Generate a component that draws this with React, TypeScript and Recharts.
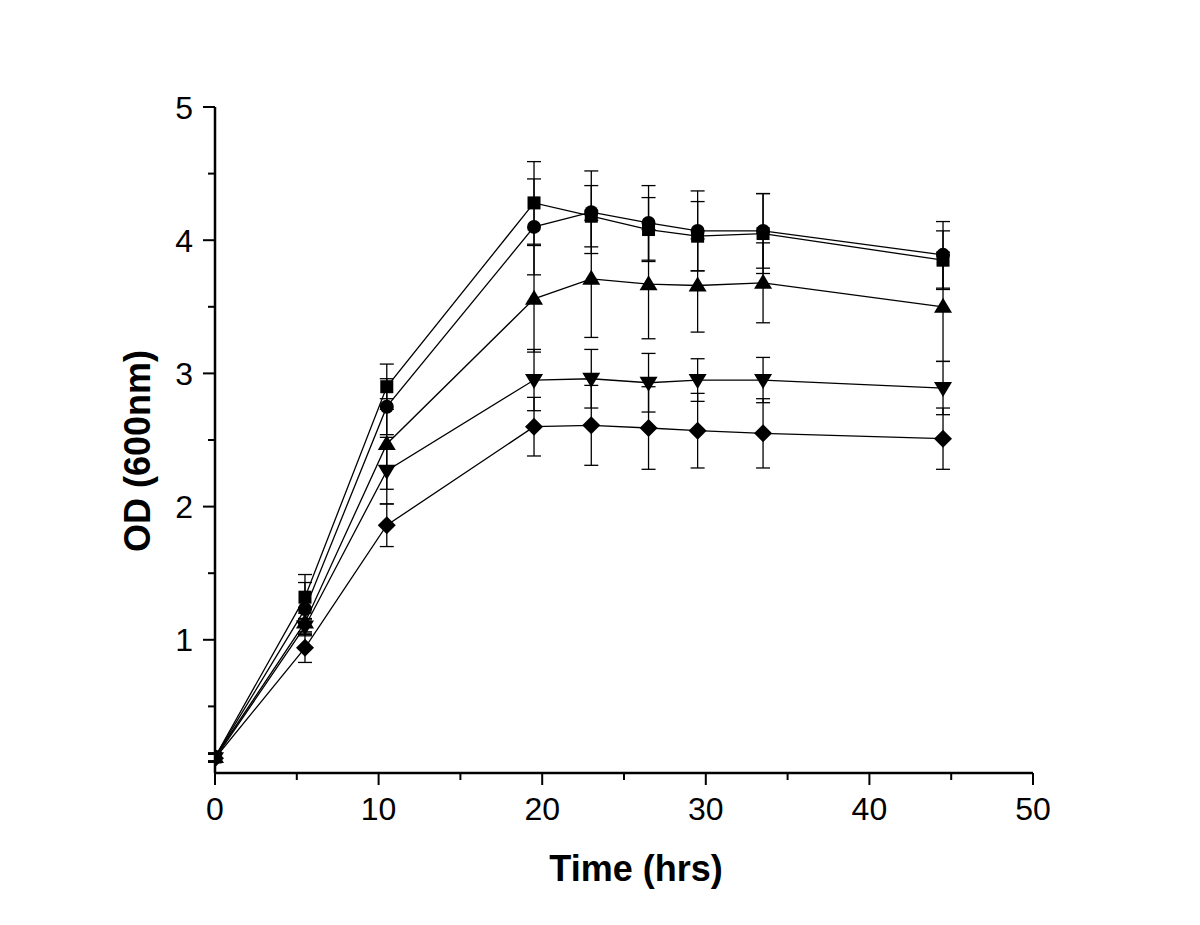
import React from 'react';
import { LineChart, Line, XAxis, YAxis, ErrorBar, Label } from 'recharts';

const times = [0, 5.5, 10.5, 19.5, 23, 26.5, 29.5, 33.5, 44.5];
const squareVals = [0.12, 1.32, 2.9, 4.28, 4.18, 4.08, 4.03, 4.05, 3.85];
const squareErr = [0.03, 0.17, 0.17, 0.31, 0.23, 0.24, 0.26, 0.3, 0.22];
const circleVals = [0.12, 1.23, 2.75, 4.1, 4.21, 4.13, 4.07, 4.07, 3.89];
const circleErr = [0.03, 0.2, 0.21, 0.36, 0.31, 0.28, 0.3, 0.28, 0.25];
const upVals = [0.12, 1.13, 2.47, 3.56, 3.71, 3.67, 3.66, 3.68, 3.5];
const upErr = [0.03, 0.07, 0.34, 0.4, 0.44, 0.41, 0.35, 0.3, 0.41];
const downVals = [0.11, 1.1, 2.27, 2.95, 2.96, 2.93, 2.95, 2.95, 2.89];
const downErr = [0.03, 0.06, 0.25, 0.23, 0.22, 0.22, 0.16, 0.17, 0.2];
const diamondVals = [0.11, 0.94, 1.86, 2.6, 2.61, 2.59, 2.57, 2.55, 2.51];
const diamondErr = [0.03, 0.11, 0.16, 0.22, 0.3, 0.31, 0.28, 0.26, 0.23];

const xTicks = [0, 5, 10, 15, 20, 25, 30, 35, 40, 45, 50];
const yTicks = [0.5, 1, 1.5, 2, 2.5, 3, 3.5, 4, 4.5, 5];

const data = times.map((t, i) => ({
  t,
  sq: squareVals[i],
  sqE: squareErr[i],
  ci: circleVals[i],
  ciE: circleErr[i],
  up: upVals[i],
  upE: upErr[i],
  dn: downVals[i],
  dnE: downErr[i],
  di: diamondVals[i],
  diE: diamondErr[i],
}));

const FONT = '"Liberation Sans", Arial, Helvetica, sans-serif';

const makeDot = (shape: string) => (props: any) => {
  const { cx, cy, index } = props;
  const k = `${shape}-${index}`;
  if (cx == null || cy == null) return <g key={k} />;
  if (shape === 'square') {
    return <rect key={k} x={cx - 6.5} y={cy - 6.5} width={13} height={13} fill="#000" />;
  }
  if (shape === 'circle') {
    return <circle key={k} cx={cx} cy={cy} r={7} fill="#000" />;
  }
  if (shape === 'up') {
    return <path key={k} d={`M${cx},${cy - 9} L${cx + 9},${cy + 6} L${cx - 9},${cy + 6} Z`} fill="#000" />;
  }
  if (shape === 'down') {
    return <path key={k} d={`M${cx},${cy + 9} L${cx + 9},${cy - 6} L${cx - 9},${cy - 6} Z`} fill="#000" />;
  }
  return <path key={k} d={`M${cx},${cy - 9} L${cx + 9},${cy} L${cx},${cy + 9} L${cx - 9},${cy} Z`} fill="#000" />;
};

const XTick = (props: any) => {
  const { x, y, payload } = props;
  const major = payload.value % 10 === 0;
  return (
    <g>
      <line x1={x} y1={y} x2={x} y2={y + (major ? 12 : 7)} stroke="#000" strokeWidth={2} />
      {major && (
        <text x={x} y={y + 47} textAnchor="middle" fontSize={32} fontFamily={FONT} fill="#000">
          {payload.value}
        </text>
      )}
    </g>
  );
};

const YTick = (props: any) => {
  const { x, y, payload } = props;
  const major = Math.abs(payload.value - Math.round(payload.value)) < 1e-6;
  return (
    <g>
      <line x1={x} y1={y} x2={x - (major ? 12 : 7)} y2={y} stroke="#000" strokeWidth={2} />
      {major && (
        <text x={x - 22} y={y + 11.5} textAnchor="end" fontSize={32} fontFamily={FONT} fill="#000">
          {payload.value}
        </text>
      )}
    </g>
  );
};

const XTitle = (props: any) => {
  const vb = props.viewBox || {};
  return (
    <text
      x={vb.x + vb.width / 2 + 12}
      y={vb.y + 108}
      textAnchor="middle"
      fontSize={36}
      fontWeight="bold"
      fontFamily={FONT}
      fill="#000"
    >
      Time (hrs)
    </text>
  );
};

const YTitle = (props: any) => {
  const vb = props.viewBox || {};
  const cx = vb.x + vb.width - 65;
  const cy = vb.y + vb.height / 2 + 11;
  return (
    <text
      x={cx}
      y={cy}
      textAnchor="middle"
      fontSize={36}
      fontWeight="bold"
      fontFamily={FONT}
      fill="#000"
      transform={`rotate(-90 ${cx} ${cy})`}
    >
      OD (600nm)
    </text>
  );
};

const series = [
  { key: 'sq', err: 'sqE', shape: 'square' },
  { key: 'ci', err: 'ciE', shape: 'circle' },
  { key: 'up', err: 'upE', shape: 'up' },
  { key: 'dn', err: 'dnE', shape: 'down' },
  { key: 'di', err: 'diE', shape: 'diamond' },
];

export default function App() {
  return (
    <div style={{ width: 1200, height: 917, background: '#fff' }}>
      <LineChart
        width={1200}
        height={917}
        data={data}
        margin={{ top: 99, right: 175, bottom: 92, left: 127 }}
      >
        <XAxis
          dataKey="t"
          type="number"
          domain={[0, 50]}
          ticks={xTicks}
          interval={0}
          tickSize={0}
          tickMargin={0}
          tickLine={false}
          tick={<XTick />}
          axisLine={{ stroke: '#000', strokeWidth: 2.5 }}
          height={60}
          allowDataOverflow
        >
          <Label content={<XTitle />} />
        </XAxis>
        <YAxis
          type="number"
          domain={[0, 5]}
          ticks={yTicks}
          interval={0}
          tickSize={0}
          tickMargin={0}
          tickLine={false}
          tick={<YTick />}
          axisLine={{ stroke: '#000', strokeWidth: 2.5 }}
          width={80}
          allowDataOverflow
        >
          <Label content={<YTitle />} />
        </YAxis>
        {series.map((s) => (
          <Line
            key={s.key}
            dataKey={s.key}
            stroke="#000"
            strokeWidth={1.3}
            isAnimationActive={false}
            dot={makeDot(s.shape)}
            activeDot={false}
            type="linear"
          >
            <ErrorBar dataKey={s.err} width={7} stroke="#000" strokeWidth={1.3} direction="y" />
          </Line>
        ))}
      </LineChart>
    </div>
  );
}
